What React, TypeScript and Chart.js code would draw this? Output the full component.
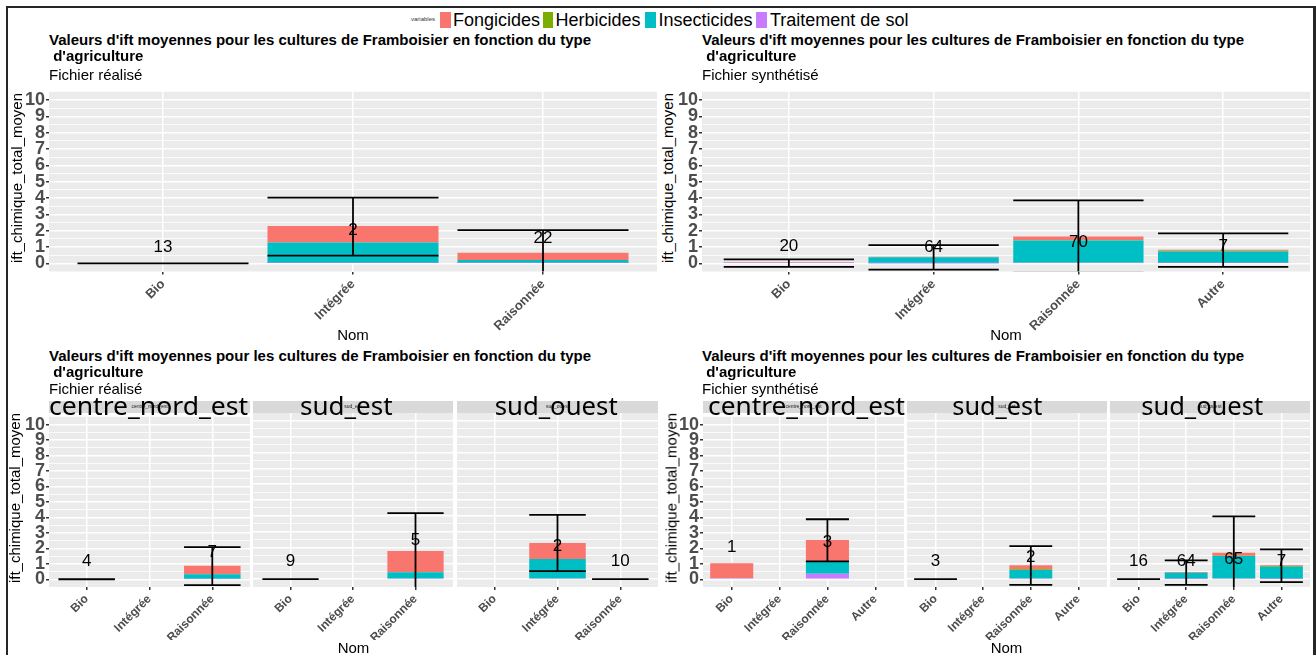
import React, { useEffect, useRef } from 'react';
import { Chart, registerables } from 'chart.js';
Chart.register(...registerables);

const LS = '"Liberation Sans", Arial, sans-serif';
Chart.defaults.font.family = LS;

// ---------------- text / categories ----------------
const SERIES = ['Fongicides', 'Herbicides', 'Insecticides', 'Traitement de sol'];
const SERIES_COLORS = ['#F8766D', '#7CAE00', '#00BFC4', '#C77CFF'];
const CAT_REAL = ['Bio', 'Intégrée', 'Raisonnée'];
const CAT_SYNTH = ['Bio', 'Intégrée', 'Raisonnée', 'Autre'];
const Y_TICKS = [0, 1, 2, 3, 4, 5, 6, 7, 8, 9, 10];
const FACETS = ['centre_nord_est', 'sud_est', 'sud_ouest'];
const TITLE_LINE1 = "Valeurs d'ift moyennes pour les cultures de Framboisier en fonction du type";
const TITLE_LINE2 = " d'agriculture";
const SUB_REAL = 'Fichier réalisé';
const SUB_SYNTH = 'Fichier synthétisé';
const Y_TITLE = 'ift_chimique_total_moyen';
const X_TITLE = 'Nom';
const LEGEND_TITLE = 'variables';

// ---------------- top-left : Fichier réalisé ----------------
const realFong = [0, 1.0, 0.45];
const realHerb = [0, 0, 0];
const realIns = [0, 1.26, 0.18];
const realSol = [0, 0.02, 0.02];
const realHi = [0, 4.02, 2.03];
const realLo = [0, 0.47, -0.73];
const realN = ['13', '2', '22'];
const realNY = [0.97, 2.0, 1.52];

// ---------------- top-right : Fichier synthétisé ----------------
const synFong = [0.03, 0.04, 0.22, 0.06];
const synHerb = [0, 0, 0.02, 0.04];
const synIns = [0, 0.36, 1.36, 0.71];
const synSol = [0.02, 0.01, 0.04, 0.02];
const synHi = [0.24, 1.12, 3.85, 1.83];
const synLo = [-0.22, -0.38, -0.57, -0.22];
const synN = ['20', '64', '70', '7'];
const synNY = [1.02, 1.0, 1.26, 1.02];

// ---------------- bottom-left : réalisé par région ----------------
const realCneFong = [0, null, 0.55];
const realCneHerb = [0, null, 0];
const realCneIns = [0, null, 0.3];
const realCneSol = [0, null, 0.03];
const realCneHi = [0, null, 2.08];
const realCneLo = [0, null, -0.38];
const realCneN = ['4', null, '7'];
const realCneNY = [1.15, null, 1.71];

const realSeFong = [0, null, 1.34];
const realSeHerb = [0, null, 0];
const realSeIns = [0, null, 0.4];
const realSeSol = [0, null, 0.03];
const realSeHi = [0, null, 4.17];
const realSeLo = [0, null, -0.63];
const realSeN = ['9', null, '5'];
const realSeNY = [1.15, null, 2.47];

const realSoFong = [null, 1.01, 0];
const realSoHerb = [null, 0, 0];
const realSoIns = [null, 1.23, 0];
const realSoSol = [null, 0.04, 0];
const realSoHi = [null, 4.06, 0];
const realSoLo = [null, 0.5, 0];
const realSoN = [null, '2', '10'];
const realSoNY = [null, 2.06, 1.14];

// ---------------- bottom-right : synthétisé par région ----------------
const synCneFong = [0.95, null, 1.37, null];
const synCneHerb = [0, null, 0, null];
const synCneIns = [0, null, 0.8, null];
const synCneSol = [0.08, null, 0.36, null];
const synCneHi = [null, null, 3.88, null];
const synCneLo = [null, null, 1.16, null];
const synCneN = ['1', null, '3', null];
const synCneNY = [2.08, null, 2.4, null];

const synSeFong = [0, null, 0.26, null];
const synSeHerb = [0, null, 0.05, null];
const synSeIns = [0, null, 0.54, null];
const synSeSol = [0, null, 0.03, null];
const synSeHi = [0, null, 2.08, null];
const synSeLo = [0, null, -0.36, null];
const synSeN = ['3', null, '2', null];
const synSeNY = [1.1, null, 1.4, null];

const synSoFong = [0, 0.05, 0.19, 0.06];
const synSoHerb = [0, 0, 0.01, 0.04];
const synSoIns = [0, 0.38, 1.42, 0.76];
const synSoSol = [0, 0.02, 0.04, 0.02];
const synSoHi = [0, 1.18, 3.97, 1.88];
const synSoLo = [0, -0.36, -0.65, -0.19];
const synSoN = ['16', '64', '65', '7'];
const synSoNY = [1.1, 1.1, 1.27, 1.1];

// ---------------- panel component ----------------
type Arr = (number | null)[];
type PanelProps = {
  left: number; top: number; width: number; height: number;
  yW: number; padTop: number; xH: number; yTicks: boolean; xFont: number;
  cats: string[]; fong: Arr; herb: Arr; ins: Arr; sol: Arr;
  hi: Arr; lo: Arr; n: (string | null)[]; nY: Arr;
};

function Panel(p: PanelProps) {
  const ref = useRef<HTMLCanvasElement>(null);
  useEffect(() => {
    const vals = [p.fong, p.herb, p.ins, p.sol];
    const order = [3, 2, 1, 0]; // ggplot stacks first level on top
    const datasets = order.map((k) => ({
      label: SERIES[k],
      data: p.cats.map((_, i) => ({ x: i, y: vals[k][i] })),
      backgroundColor: SERIES_COLORS[k],
      borderWidth: 0,
      barPercentage: 0.9,
      categoryPercentage: 1,
    }));
    const bgPlugin = {
      id: 'panelbg',
      beforeDraw(chart: any) {
        const { ctx, chartArea: a } = chart;
        ctx.save();
        ctx.fillStyle = '#EBEBEB';
        ctx.fillRect(a.left, a.top, a.right - a.left, a.bottom - a.top);
        ctx.restore();
      },
    };
    const errPlugin = {
      id: 'errbars',
      afterDatasetsDraw(chart: any) {
        const { ctx, chartArea: a } = chart;
        const x = chart.scales.x, y = chart.scales.y;
        ctx.save();
        ctx.beginPath();
        ctx.rect(a.left, a.top, a.right - a.left, a.bottom - a.top);
        ctx.clip();
        ctx.strokeStyle = '#000';
        ctx.lineWidth = 1.8;
        p.cats.forEach((_, i) => {
          const h = p.hi[i], l = p.lo[i];
          if (h == null || l == null) return;
          const cx = x.getPixelForValue(i);
          const half = x.getPixelForValue(i + 0.45) - cx;
          const yh = y.getPixelForValue(h), yl = y.getPixelForValue(l);
          ctx.beginPath();
          ctx.moveTo(cx - half, yh); ctx.lineTo(cx + half, yh);
          ctx.moveTo(cx - half, yl); ctx.lineTo(cx + half, yl);
          ctx.moveTo(cx, yh); ctx.lineTo(cx, yl);
          ctx.stroke();
        });
        ctx.fillStyle = '#000';
        ctx.font = '17px ' + LS;
        ctx.textAlign = 'center';
        ctx.textBaseline = 'middle';
        p.cats.forEach((_, i) => {
          const t = p.n[i], ty = p.nY[i];
          if (t == null || ty == null) return;
          ctx.fillText(t, x.getPixelForValue(i), y.getPixelForValue(ty));
        });
        ctx.restore();
      },
    };
    const nc = p.cats.length;
    const isMajor = (v: number) => Y_TICKS.includes(v);
    const isEdge = (v: number) => v < Y_TICKS[0] || v > Y_TICKS[Y_TICKS.length - 1];
    const chart = new Chart(ref.current as HTMLCanvasElement, {
      type: 'bar',
      data: { datasets } as any,
      options: {
        animation: false,
        responsive: false,
        maintainAspectRatio: false,
        layout: { padding: { top: p.padTop, left: 0, right: 0, bottom: 0 } },
        plugins: { legend: { display: false }, tooltip: { enabled: false } },
        scales: {
          x: {
            type: 'linear',
            stacked: true,
            offset: false,
            bounds: 'data',
            min: -0.6,
            max: nc - 1 + 0.6,
            afterBuildTicks: (s: any) => { s.ticks = p.cats.map((_, i) => ({ value: i })); },
            afterFit: (s: any) => { s.height = p.xH; },
            ticks: {
              autoSkip: false,
              minRotation: 45,
              maxRotation: 45,
              padding: 2,
              color: '#4D4D4D',
              font: { family: LS, size: p.xFont, weight: 'bold' },
              callback: (v: any) => p.cats[v],
            },
            grid: { offset: false, color: '#FFFFFF', lineWidth: 1.5, tickColor: '#333333', tickLength: 3, drawTicks: true },
            border: { display: false },
          },
          y: {
            type: 'linear',
            stacked: true,
            bounds: 'data',
            min: -0.5,
            max: 10.5,
            afterBuildTicks: (s: any) => {
              const t: any[] = [];
              for (let k = -1; k <= 21; k++) t.push({ value: k * 0.5 });
              s.ticks = t;
            },
            afterFit: (s: any) => { s.width = p.yW; },
            ticks: {
              display: p.yTicks,
              autoSkip: false,
              padding: 1,
              color: '#4D4D4D',
              font: { family: LS, size: 18, weight: 'bold' },
              callback: (v: any) => (isEdge(v) ? null : isMajor(v) ? String(v) : ''),
            },
            grid: {
              color: (c: any) => (isEdge(c.tick.value) ? 'rgba(0,0,0,0)' : '#FFFFFF'),
              lineWidth: (c: any) => (isMajor(c.tick.value) ? 1.5 : 0.8),
              tickColor: (c: any) => (isMajor(c.tick.value) ? '#333333' : 'rgba(0,0,0,0)'),
              tickLength: 3,
              drawTicks: p.yTicks,
            },
            border: { display: false },
          },
        },
      } as any,
      plugins: [bgPlugin, errPlugin],
    });
    return () => chart.destroy();
  }, []);
  return (
    <canvas
      ref={ref}
      width={p.width}
      height={p.height}
      style={{ position: 'absolute', left: p.left, top: p.top, width: p.width, height: p.height }}
    />
  );
}

// ---------------- text helpers ----------------
function T(props: { x: number; b: number; s: number; text: string; bold?: boolean; center?: boolean; color?: string }) {
  const { x, b, s, text, bold, center, color } = props;
  return (
    <div
      style={{
        position: 'absolute', left: x, top: b - 0.8465 * s, fontFamily: LS, fontSize: s,
        lineHeight: s + 'px', fontWeight: bold ? 700 : 400, color: color || '#000',
        whiteSpace: 'pre', transform: center ? 'translateX(-50%)' : undefined,
      }}
    >
      {text}
    </div>
  );
}

function YTitle({ cx, cy }: { cx: number; cy: number }) {
  return (
    <div
      style={{
        position: 'absolute', left: cx, top: cy, fontFamily: LS, fontSize: 15, lineHeight: '15px',
        whiteSpace: 'pre', color: '#000', transform: 'translate(-50%,-50%) rotate(-90deg)',
      }}
    >
      {Y_TITLE}
    </div>
  );
}

const measureCanvas = typeof document !== 'undefined' ? document.createElement('canvas') : null;
function FitText({ text, cx, b, w, s }: { text: string; cx: number; b: number; w: number; s: number }) {
  const fam = '"Noto Sans", sans-serif';
  let mw = w;
  const c = measureCanvas && measureCanvas.getContext('2d');
  if (c) { c.font = `${s}px ${fam}`; mw = c.measureText(text).width || w; }
  return (
    <div
      style={{
        position: 'absolute', left: cx - mw / 2, top: b - 0.888 * s, width: mw, fontFamily: fam,
        fontSize: s, lineHeight: s + 'px', whiteSpace: 'pre', color: '#000', textAlign: 'center',
        transform: `scaleX(${w / mw})`, transformOrigin: 'center',
      }}
    >
      {text}
    </div>
  );
}

function Titles({ x, b1, b2, b3, sub }: { x: number; b1: number; b2: number; b3: number; sub: string }) {
  return (
    <>
      <T x={x} b={b1} s={15} bold text={TITLE_LINE1} />
      <T x={x} b={b2} s={15} bold text={TITLE_LINE2} />
      <T x={x} b={b3} s={15} text={sub} />
    </>
  );
}

// layout constants
const BL_FACETS = [
  { left: 20, width: 230, yW: 29, x0: 49, x1: 250, tc: 148.8, tw: 199 },
  { left: 253, width: 200, yW: 0, x0: 253, x1: 453, tc: 346.5, tw: 92.6 },
  { left: 457, width: 201, yW: 0, x0: 457, x1: 658, tc: 556.6, tw: 123 },
];
const BR_FACETS = [
  { left: 676, width: 228, yW: 27, x0: 703, x1: 904, tc: 807, tw: 197 },
  { left: 907, width: 200, yW: 0, x0: 907, x1: 1107, tc: 997.6, tw: 90 },
  { left: 1110, width: 200, yW: 0, x0: 1110, x1: 1310, tc: 1202.5, tw: 122 },
];
const BL_DATA = [
  { fong: realCneFong, herb: realCneHerb, ins: realCneIns, sol: realCneSol, hi: realCneHi, lo: realCneLo, n: realCneN, nY: realCneNY },
  { fong: realSeFong, herb: realSeHerb, ins: realSeIns, sol: realSeSol, hi: realSeHi, lo: realSeLo, n: realSeN, nY: realSeNY },
  { fong: realSoFong, herb: realSoHerb, ins: realSoIns, sol: realSoSol, hi: realSoHi, lo: realSoLo, n: realSoN, nY: realSoNY },
];
const BR_DATA = [
  { fong: synCneFong, herb: synCneHerb, ins: synCneIns, sol: synCneSol, hi: synCneHi, lo: synCneLo, n: synCneN, nY: synCneNY },
  { fong: synSeFong, herb: synSeHerb, ins: synSeIns, sol: synSeSol, hi: synSeHi, lo: synSeLo, n: synSeN, nY: synSeNY },
  { fong: synSoFong, herb: synSoHerb, ins: synSoIns, sol: synSoSol, hi: synSoHi, lo: synSoLo, n: synSoN, nY: synSoNY },
];
const LEGEND_POS = [
  { sw: 440, tx: 453 },
  { sw: 542.5, tx: 555.5 },
  { sw: 645, tx: 658.5 },
  { sw: 756, tx: 770 },
];

export default function App() {
  return (
    <div style={{ position: 'absolute', left: 0, top: 0, width: 1316, height: 655, overflow: 'hidden', background: '#fff' }}>
      {/* outer frame */}
      <div style={{ position: 'absolute', left: 6, top: 6, width: 1305, height: 649, borderTop: '2px solid #262626', borderLeft: '2px solid #262626', borderRight: '3px solid #262626' }} />

      {/* charts */}
      <Panel left={20} top={80} width={637} height={255} yW={29} padTop={6} xH={63.5} yTicks xFont={13}
        cats={CAT_REAL} fong={realFong} herb={realHerb} ins={realIns} sol={realSol}
        hi={realHi} lo={realLo} n={realN} nY={realNY} />
      <Panel left={676} top={80} width={634} height={255} yW={26} padTop={6} xH={63.5} yTicks xFont={13}
        cats={CAT_SYNTH} fong={synFong} herb={synHerb} ins={synIns} sol={synSol}
        hi={synHi} lo={synLo} n={synN} nY={synNY} />
      {BL_FACETS.map((f, i) => (
        <Panel key={'bl' + i} left={f.left} top={405} width={f.width} height={235} yW={f.yW} padTop={8} xH={53}
          yTicks={i === 0} xFont={12} cats={CAT_REAL} {...BL_DATA[i]} />
      ))}
      {BR_FACETS.map((f, i) => (
        <Panel key={'br' + i} left={f.left} top={405} width={f.width} height={235} yW={f.yW} padTop={8} xH={53}
          yTicks={i === 0} xFont={12} cats={CAT_SYNTH} {...BR_DATA[i]} />
      ))}

      {/* facet strips */}
      {[...BL_FACETS, ...BR_FACETS].map((f, i) => (
        <React.Fragment key={'st' + i}>
          <div style={{ position: 'absolute', left: f.x0, top: 401, width: f.x1 - f.x0, height: 12, background: '#D9D9D9' }} />
          <div style={{ position: 'absolute', left: (f.x0 + f.x1) / 2, top: 404, fontFamily: LS, fontSize: 5, lineHeight: '5px', color: '#1A1A1A', transform: 'translateX(-50%)', whiteSpace: 'pre' }}>
            {FACETS[i % 3]}
          </div>
          <FitText text={FACETS[i % 3]} cx={f.tc} b={415.5} w={f.tw} s={26} />
        </React.Fragment>
      ))}

      {/* legend */}
      <div style={{ position: 'absolute', left: 411, top: 21.5 - 0.8465 * 6, fontFamily: LS, fontSize: 6, lineHeight: '6px', color: '#333' }}>{LEGEND_TITLE}</div>
      {SERIES.map((s, i) => (
        <React.Fragment key={'lg' + i}>
          <div style={{ position: 'absolute', left: LEGEND_POS[i].sw, top: 12, width: 10.5, height: 16, background: SERIES_COLORS[i] }} />
          <T x={LEGEND_POS[i].tx} b={26.4} s={18} text={s} />
        </React.Fragment>
      ))}

      {/* titles */}
      <Titles x={49} b1={45} b2={60.5} b3={79.5} sub={SUB_REAL} />
      <Titles x={702} b1={45} b2={60.5} b3={79.5} sub={SUB_SYNTH} />
      <Titles x={49} b1={360.7} b2={376.5} b3={393.3} sub={SUB_REAL} />
      <Titles x={702} b1={360.7} b2={376.5} b3={393.3} sub={SUB_SYNTH} />

      {/* axis titles */}
      <YTitle cx={15.8} cy={178} />
      <YTitle cx={667} cy={178} />
      <YTitle cx={14} cy={497.5} />
      <YTitle cx={670.5} cy={498} />
      <T x={353} b={339.5} s={15} center text={X_TITLE} />
      <T x={1006} b={339.5} s={15} center text={X_TITLE} />
      <T x={353.5} b={653} s={15} center text={X_TITLE} />
      <T x={1006.5} b={653} s={15} center text={X_TITLE} />
    </div>
  );
}
